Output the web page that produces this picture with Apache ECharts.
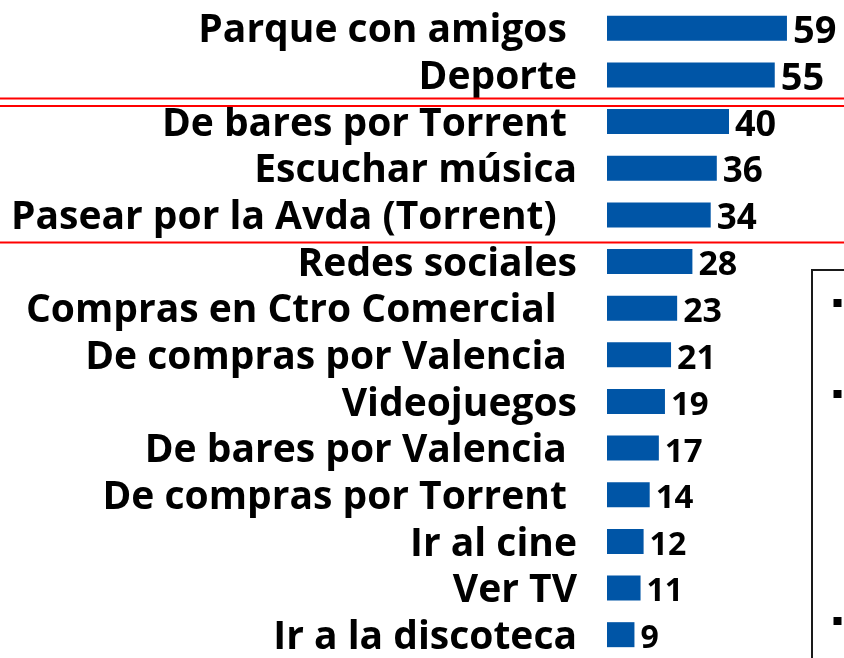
<!DOCTYPE html>
<html lang="es">
<head>
    <meta charset="UTF-8">
    <title>Actividades de ocio</title>
    <style>
        html, body { margin: 0; padding: 0; background: #ffffff; }
        #chart { width: 844px; height: 658px; }
    </style>
</head>
<body>
    <div id="chart"></div>
    <script src="https://cdn.jsdelivr.net/npm/echarts@6/dist/echarts.min.js"></script>
    <script>
        // actividades (las etiquetas llevan espacios finales como en el original)
        const categorias = [
            'Parque con amigos ',
            'Deporte',
            'De bares por Torrent ',
            'Escuchar música',
            'Pasear por la Avda (Torrent)  ',
            'Redes sociales',
            'Compras en Ctro Comercial  ',
            'De compras por Valencia ',
            'Videojuegos',
            'De bares por Valencia ',
            'De compras por Torrent ',
            'Ir al cine',
            'Ver TV',
            'Ir a la discoteca'
        ];
        const valores = [59, 55, 40, 36, 34, 28, 23, 21, 19, 17, 14, 12, 11, 9];

        const chart = echarts.init(document.getElementById('chart'));

        const option = {
            animation: false,
            grid: { left: 607, top: 5, width: 213.5, height: 657 },
            xAxis: {
                type: 'value',
                min: 0,
                max: 70,
                show: false
            },
            yAxis: {
                type: 'category',
                inverse: true,
                data: categorias,
                axisLine: { show: false },
                axisTick: { show: false },
                axisLabel: {
                    interval: 0,
                    hideOverlap: false,
                    margin: 30,
                    formatter: function (t) { return '{c|' + t + '}'; },
                    rich: {
                        c: {
                            padding: [6, 0, 0, 0],
                            color: '#000000',
                            fontFamily: 'Open Sans',
                            fontWeight: 'bold',
                            fontSize: 39
                        }
                    },
                    color: '#000000',
                    fontFamily: 'Open Sans',
                    fontWeight: 'bold',
                    fontSize: 39
                }
            },
            series: [{
                type: 'bar',
                barWidth: 25,
                itemStyle: { color: '#0055a6' },
                data: valores.map(function (v) {
                    return { value: v, label: { fontSize: Math.round(31 + 0.12 * v) } };
                }),
                label: {
                    show: true,
                    position: 'right',
                    distance: 6,
                    offset: [0, 4],
                    color: '#000000',
                    fontFamily: 'Open Sans',
                    fontWeight: 'bold'
                }
            }],
            graphic: [
                // líneas rojas de separación
                { type: 'line', z: 100, shape: { x1: 0, y1: 98.5, x2: 844, y2: 98.5 }, style: { stroke: '#ff0000', lineWidth: 2 } },
                { type: 'line', z: 100, shape: { x1: 0, y1: 106, x2: 844, y2: 106 }, style: { stroke: '#ff0000', lineWidth: 2 } },
                { type: 'line', z: 100, shape: { x1: 0, y1: 242.5, x2: 844, y2: 242.5 }, style: { stroke: '#ff0000', lineWidth: 2 } },
                // recuadro de texto a la derecha
                { type: 'rect', shape: { x: 812, y: 270, width: 60, height: 420 }, style: { fill: '#ffffff', stroke: '#1a1a1a', lineWidth: 2 } },
                { type: 'rect', shape: { x: 833.5, y: 299, width: 8, height: 8 }, style: { fill: '#000000' } },
                { type: 'rect', shape: { x: 833.5, y: 390, width: 8, height: 8 }, style: { fill: '#000000' } },
                { type: 'rect', shape: { x: 833.5, y: 617, width: 8, height: 8 }, style: { fill: '#000000' } }
            ]
        };

        chart.setOption(option);
    </script>
</body>
</html>
